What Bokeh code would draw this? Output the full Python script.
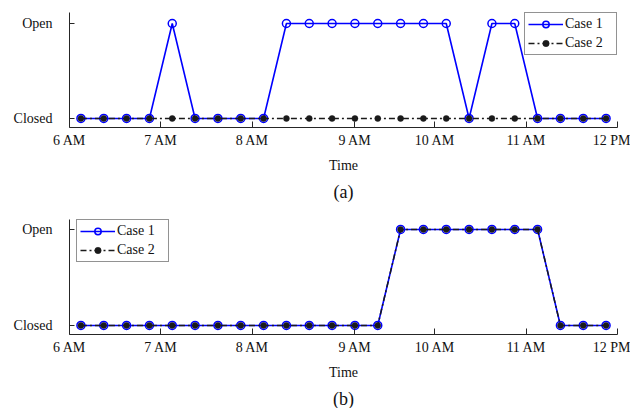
from bokeh.plotting import figure
from bokeh.layouts import column
from bokeh.models import FixedTicker, Legend, LegendItem, Title
from bokeh.embed import file_html
from bokeh.resources import INLINE

# ---- data ----
times = [6.125, 6.375, 6.625, 6.875, 7.125, 7.375, 7.625, 7.875,
         8.125, 8.375, 8.625, 8.875, 9.125, 9.375, 9.625, 9.875,
         10.125, 10.375, 10.625, 10.875, 11.125, 11.375, 11.625, 11.875]

a_case1 = [0, 0, 0, 0, 1, 0, 0, 0, 0, 1, 1, 1, 1, 1, 1, 1, 1, 0, 1, 1, 0, 0, 0, 0]
a_case2 = [0, 0, 0, 0, 0, 0, 0, 0, 0, 0, 0, 0, 0, 0, 0, 0, 0, 0, 0, 0, 0, 0, 0, 0]

b_case1 = [0, 0, 0, 0, 0, 0, 0, 0, 0, 0, 0, 0, 0, 0, 1, 1, 1, 1, 1, 1, 1, 0, 0, 0]
b_case2 = [0, 0, 0, 0, 0, 0, 0, 0, 0, 0, 0, 0, 0, 0, 1, 1, 1, 1, 1, 1, 1, 0, 0, 0]

xtick_pos = [6, 7, 8, 9.125, 10, 11, 12]
xtick_labels = ["6 AM", "7 AM", "8 AM", "9 AM", "10 AM", "11 AM", "12 PM"]
ytick_pos = [0, 1]
ytick_labels = ["Closed", "Open"]
series_names = ["Case 1", "Case 2"]
panel_tags = ["(a)", "(b)"]

FONT = "Liberation Serif"
AX = "#262626"


def panel(c1, c2, tag, height, top_border, frame_h, legend_loc, y_range):
    p = figure(width=630, height=height, output_backend="svg", toolbar_location=None,
               x_range=(6, 12), y_range=y_range,
               min_border_left=69, min_border_right=13, min_border_top=top_border,
               min_border_bottom=height - top_border - frame_h,
               frame_height=frame_h, frame_width=548)
    p.outline_line_color = None
    p.grid.visible = False
    p.background_fill_color = "white"
    p.border_fill_color = "white"

    l1 = p.line(times, c1, line_color="#0000ff", line_width=1.6)
    s1 = p.scatter(times, c1, marker="circle", size=8, fill_color=None,
                   line_color="#0000ff", line_width=1.5)
    l2 = p.line(times, c2, line_color="#1a1a1a", line_width=1.5, line_dash="6 3 2 3")
    s2 = p.scatter(times, c2, marker="circle", size=6, fill_color="#1a1a1a",
                   line_color="#1a1a1a", line_width=0.5)

    xa = p.xaxis[0]
    xa.ticker = FixedTicker(ticks=xtick_pos)
    xa.major_label_overrides = {t: l for t, l in zip(xtick_pos, xtick_labels)}
    xa.axis_label = "Time"
    ya = p.yaxis[0]
    ya.ticker = FixedTicker(ticks=ytick_pos)
    ya.major_label_overrides = {t: l for t, l in zip(ytick_pos, ytick_labels)}
    for ax in (xa, ya):
        ax.axis_line_color = AX
        ax.axis_line_width = 1
        ax.major_tick_line_color = AX
        ax.major_tick_in = 5
        ax.major_tick_out = 0
        ax.minor_tick_line_color = None
        ax.major_label_text_font = FONT
        ax.major_label_text_font_size = "14px"
        ax.major_label_text_color = "#111111"
        ax.axis_label_text_font = FONT
        ax.axis_label_text_font_size = "14px"
        ax.axis_label_text_font_style = "normal"
        ax.axis_label_text_color = "#111111"
    xa.major_tick_in = 6
    xa.major_label_standoff = 5
    xa.axis_label_standoff = 7
    ya.major_label_standoff = 17

    legend = Legend(items=[LegendItem(label=series_names[0], renderers=[l1, s1]),
                           LegendItem(label=series_names[1], renderers=[l2, s2])],
                    location=legend_loc, orientation="vertical",
                    label_text_font=FONT, label_text_font_size="14px",
                    label_text_color="#111111",
                    glyph_width=35, glyph_height=16, label_height=16,
                    label_standoff=2, label_width=48, padding=3, spacing=3,
                    margin=0, border_line_color=AX, border_line_width=1,
                    background_fill_color="white", background_fill_alpha=1.0)
    p.add_layout(legend)

    t = Title(text=tag, align="center", text_font=FONT, text_font_size="18px",
              text_font_style="normal", text_color="#111111", standoff=8)
    p.add_layout(t, "below")
    return p


p1 = panel(a_case1, a_case2, panel_tags[0], 205, 12, 115, "top_right", (-0.095, 1.116))
p2 = panel(b_case1, b_case2, panel_tags[1], 203, 14, 115, (7, 115 - 1 - 42), (-0.094, 1.104))

layout = column(p1, p2, spacing=0)
open("out.html", "w").write(file_html(layout, INLINE))
